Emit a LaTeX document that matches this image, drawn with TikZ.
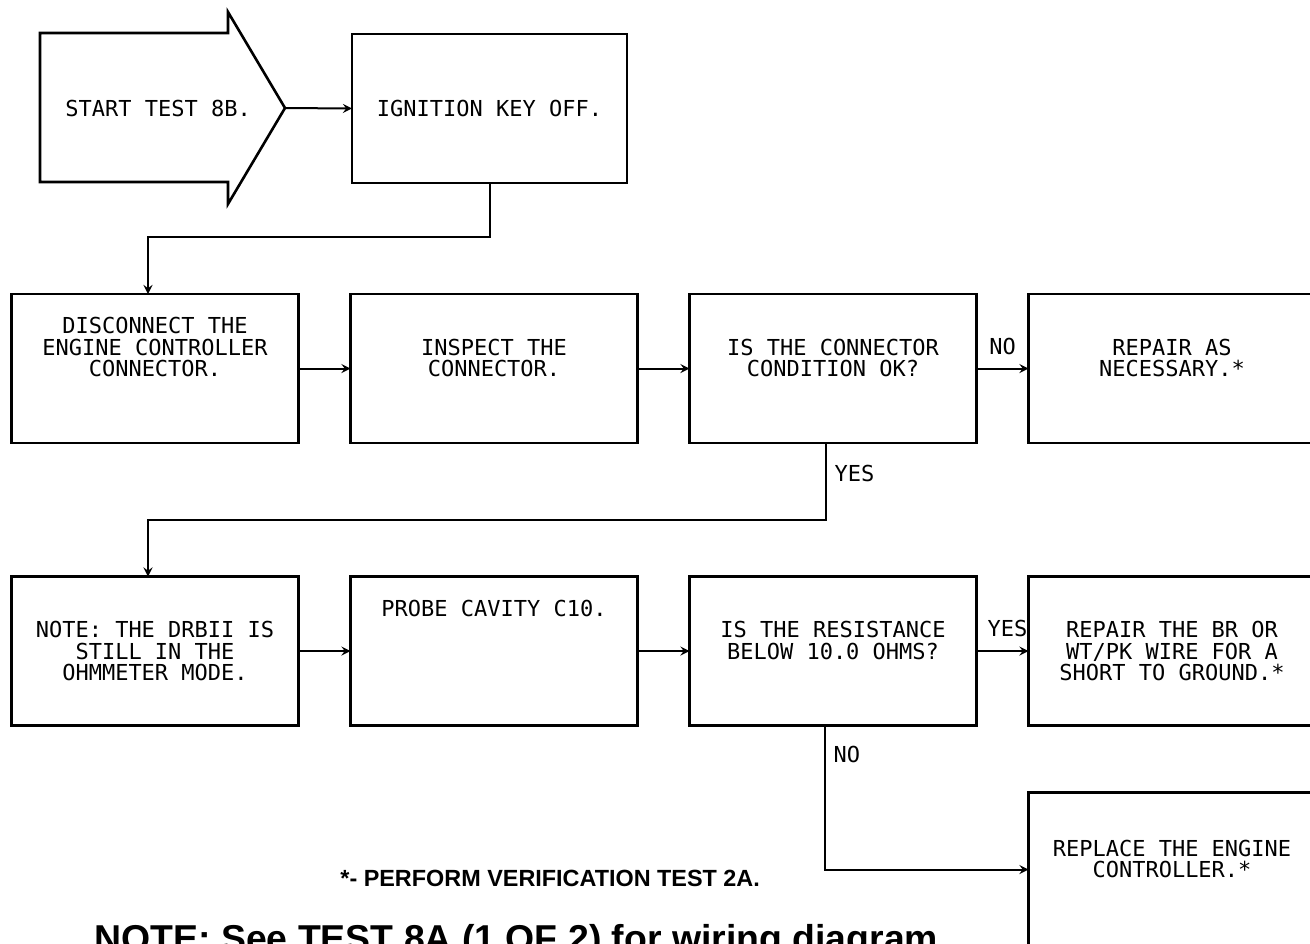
\documentclass[tikz,border=0pt]{standalone}
\usepackage{fontspec}
\usepackage{tikz}
\usetikzlibrary{arrows, positioning}
\setmainfont{Liberation Sans}
\newfontfamily\plotfont{DejaVu Sans Mono}
\newcommand{\chartfont}{\plotfont\fontsize{11pt}{10.75pt}\selectfont}

\begin{document}
\begin{tikzpicture}[
  x=0.5pt, y=-0.5pt,
  box/.style={rectangle, draw=black, line width=1.3pt, outer sep=0pt, inner sep=0pt, minimum width=143.5pt, minimum height=74.5pt, align=center, font=\chartfont},
  lbl/.style={inner sep=0pt, font=\chartfont},
  arrow/.style={line width=1pt, ->, >=stealth}
]
\useasboundingbox (0,0) rectangle (1310,943);

% start arrow
\draw[line width=1.3pt] (40,33) -- (228,33) -- (228,12) -- (285,108) -- (228,204) -- (228,182) -- (40,182) -- cycle;
\node[lbl, anchor=west] (start) at (65,108) {START TEST 8B.};
\coordinate (starttip) at (285,108);
\node[box, minimum width=137.5pt] (ign) at (489.5,108.5) {IGNITION KEY OFF.};

% second row
\node[box] (disc) at (155,368.5) {DISCONNECT THE\\ENGINE CONTROLLER\\CONNECTOR.\\\mbox{}\\\mbox{}};
\node[box, right=26pt of disc] (insp) {INSPECT THE\\CONNECTOR.\\\mbox{}};
\node[box, right=26pt of insp] (cond) {IS THE CONNECTOR\\CONDITION OK?\\\mbox{}};
\node[box, right=26pt of cond] (rep1) {REPAIR AS\\NECESSARY.*\\\mbox{}};

% third row
\node[box] (note) at (155,651) {NOTE: THE DRBII IS\\STILL IN THE\\OHMMETER MODE.};
\node[box, right=26pt of note] (probe) {PROBE CAVITY C10.\\\mbox{}\\\mbox{}\\\mbox{}\\\mbox{}};
\node[box, right=26pt of probe] (res) {IS THE RESISTANCE\\BELOW 10.0 OHMS?\\\mbox{}};
\node[box, right=26pt of res] (rep2) {REPAIR THE BR OR\\WT/PK WIRE FOR A\\SHORT TO GROUND.*};
\node[box, minimum height=77pt, below=33.5pt of rep2] (repl) {REPLACE THE ENGINE\\CONTROLLER.*\\\mbox{}};

\draw[arrow] (starttip) -- (ign.west);
\draw[arrow] (ign.south) -- ++(0,54) -| ([xshift=-3.5pt]disc.north);
\draw[arrow] (disc) -- (insp);
\draw[arrow] (insp) -- (cond);
\draw[arrow] (cond) -- node[lbl, above=6.5pt] (no1) {NO} (rep1);
\draw[arrow] ([xshift=-3.75pt]cond.south) -- node[lbl, pos=0.4, right=4pt] (yes1) {YES} ++(0,77) -| ([xshift=-3.5pt]note.north);
\draw[arrow] (note) -- (probe);
\draw[arrow] (probe) -- (res);
\draw[arrow] (res) -- node[lbl, above=6.5pt, xshift=2.5pt] (yes2) {YES} (rep2);
\draw[arrow] ([xshift=-4.25pt]res.south) |- node[lbl, pos=0.1, right=4pt] (no2) {NO} (repl.west);

% footnotes
\node[anchor=west, inner sep=0pt, font=\bfseries\fontsize{11.7pt}{14pt}\selectfont] (verify) at (340,878) {*- PERFORM VERIFICATION TEST 2A.};
\node[anchor=north west, inner sep=0pt, font=\bfseries\fontsize{18.7pt}{22pt}\selectfont] (wiring) at (94,924) {NOTE: See TEST 8A (1 OF 2) for wiring diagram};

\end{tikzpicture}
\end{document}
